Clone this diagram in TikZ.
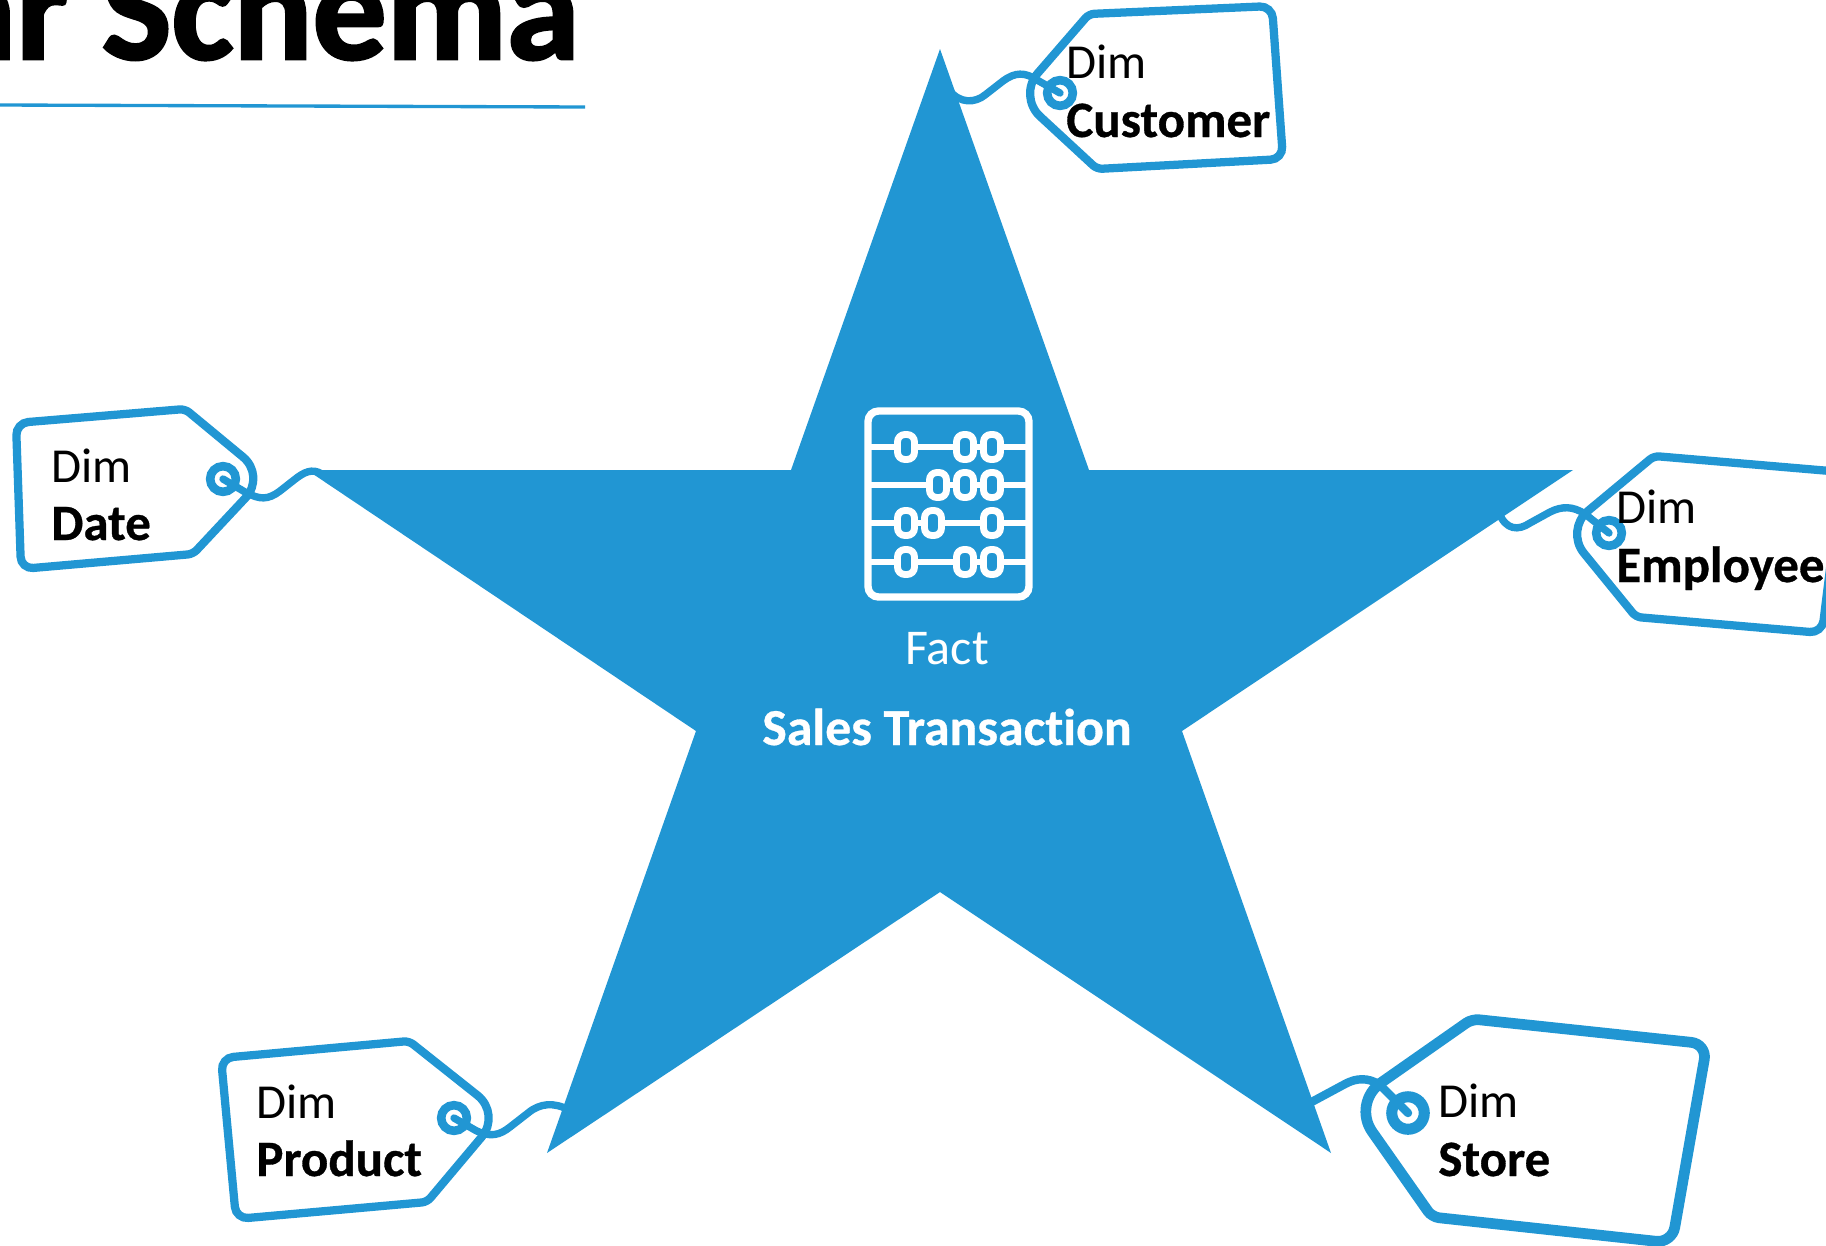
\documentclass[tikz,border=0pt]{standalone}
\usepackage{fontspec}
\setmainfont[Ligatures=NoCommon,BoldFeatures={FakeBold=0.6}]{Carlito}
\newfontfamily\titlefont[Ligatures=NoCommon,BoldFeatures={FakeBold=2}]{Carlito}
\definecolor{starblue}{RGB}{33,150,211}
\tikzset{
  tagline/.style={draw=starblue,line width=4.7pt,fill=white},
  tagstring/.style={draw=starblue,line width=4.2pt,line cap=round},
  tagring/.style={circle,draw=starblue,fill=white,line width=4.9pt,minimum size=14.6pt,inner sep=0pt},
  dimtext/.style={anchor=base west,inner sep=0pt,font=\fontsize{27.8}{30}\selectfont},
  dimname/.style={dimtext,font=\fontsize{29}{30}\selectfont\bfseries},
  abacus/.style={draw=white,line width=4.2pt,rounded corners=6pt},
}
\begin{document}
\begin{tikzpicture}[x=0.02cm,y=-0.02cm]
  \useasboundingbox (0,0) rectangle (1826,1245);
  \clip (0,0) rectangle (1826,1245);

  %title
  \node[anchor=base east,inner sep=0pt,font=\titlefont\fontsize{84}{84}\selectfont\bfseries] (title) at (580,59) {Star Schema};
  \draw[starblue,line width=1.9pt] (0,105) -- (585,107);

  %star
  \fill[starblue] (940,49) -- (1089,470) -- (1573,470) -- (1182,731) -- (1331,1153)
    -- (940,892) -- (547,1153) -- (696,731) -- (307,470) -- (791,470) -- cycle;
  \coordinate (custknot) at (949,90);
  \coordinate (dateknot) at (322,474);
  \coordinate (empknot) at (1499,513);
  \coordinate (prodknot) at (569,1110);
  \coordinate (storeknot) at (1306,1105);

  %abacus
  \draw[abacus] (868,411) rectangle (1029,597);
  \foreach \y in {447,485,523,562}
    \draw[white,line width=3.1pt] (868,\y) -- (1029,\y);
  \foreach \x/\y in {906/447,965/447,992/447,938/485,965/485,992/485,906/523,933/523,992/523,906/562,965/562,992/562}
    \draw[draw=white,fill=starblue,line width=3.9pt,rounded corners=4.2pt] (\x-8.5,\y-12.5) rectangle (\x+8.5,\y+12.5);

  %star labels
  \node[anchor=base,inner sep=0pt,white,font=\fontsize{28.5}{30}\selectfont] (factlabel) at (947,664) {Fact};
  \node[anchor=base,inner sep=0pt,white,font=\fontsize{29.5}{30}\selectfont\bfseries] (factname) at (947,745) {Sales Transaction};

  %customer tag
  \draw[tagline] (1018,96) [rounded corners=3pt] -- (1089,14) [rounded corners=7pt] -- (1272,6)
    -- (1283,159) [rounded corners=3pt] -- (1097,169) [rounded corners=17pt] -- cycle;
  \node[tagring] (custring) at (1060,93) {};
  \draw[tagstring] (custring.center) -- (1037,80) .. controls (1025,72) and (1015,72) .. (1003,81)
    -- (985,95) .. controls (975,103) and (960,104) .. (custknot);
  \node[dimtext] (custdim) at (1066,78) {Dim};
  \node[dimname] (custname) at (1066,137) {Customer};

  %date tag
  \draw[tagline] (266,476) [rounded corners=3pt] -- (185,409) [rounded corners=7pt] -- (16,423)
    -- (21,569) [rounded corners=3pt] -- (193,554) [rounded corners=17pt] -- cycle;
  \node[tagring] (datering) at (223,479) {};
  \draw[tagstring] (datering.center) -- (245,492) .. controls (260,500) and (268,500) .. (280,491)
    -- (294,480) .. controls (304,472) and (312,468) .. (dateknot);
  \node[dimtext] (datedim) at (51,482) {Dim};
  \node[dimname] (datename) at (51,540) {Date};

  %employee tag
  \draw[tagline] (1565,530) [rounded corners=3pt] -- (1654,456) [rounded corners=7pt] -- (1842,472)
    -- (1822,633) [rounded corners=3pt] -- (1636,617) [rounded corners=17pt] -- cycle;
  \node[tagring] (empring) at (1609,533) {};
  \draw[tagstring] (empring.center) -- (1585,514) .. controls (1573,506) and (1562,506) .. (1550,512)
    -- (1530,523) .. controls (1518,531) and (1506,530) .. (empknot);
  \node[dimtext] (empdim) at (1616,523) {Dim};
  \node[dimname] (empname) at (1616,582) {Employee};

  %product tag
  \draw[tagline] (501,1114) [rounded corners=3pt] -- (409,1041) [rounded corners=7pt] -- (221,1058)
    -- (236,1219) [rounded corners=3pt] -- (427,1202) [rounded corners=17pt] -- cycle;
  \node[tagring] (prodring) at (454,1118) {};
  \draw[tagstring] (prodring.center) -- (475,1130) .. controls (490,1138) and (500,1135) .. (510,1127)
    -- (528,1113) .. controls (540,1103) and (554,1102) .. (prodknot);
  \node[dimtext] (proddim) at (256,1118) {Dim};
  \node[dimname] (prodname) at (256,1176) {Product};

  %store tag
  \draw[tagline,line width=6.1pt] (1352,1103) [rounded corners=4pt] -- (1472,1019) [rounded corners=9pt] -- (1707,1044)
    -- (1672,1243) [rounded corners=4pt] -- (1432,1217) [rounded corners=20pt] -- cycle;
  \node[tagring,line width=6.3pt,minimum size=18.5pt] (storering) at (1408,1113) {};
  \draw[tagstring,line width=4.8pt] (storering.center) -- (1380,1085) .. controls (1368,1077) and (1356,1078) .. (1345,1084)
    -- (storeknot);
  \node[dimtext] (storedim) at (1438,1117) {Dim};
  \node[dimname] (storename) at (1438,1176) {Store};
\end{tikzpicture}
\end{document}
